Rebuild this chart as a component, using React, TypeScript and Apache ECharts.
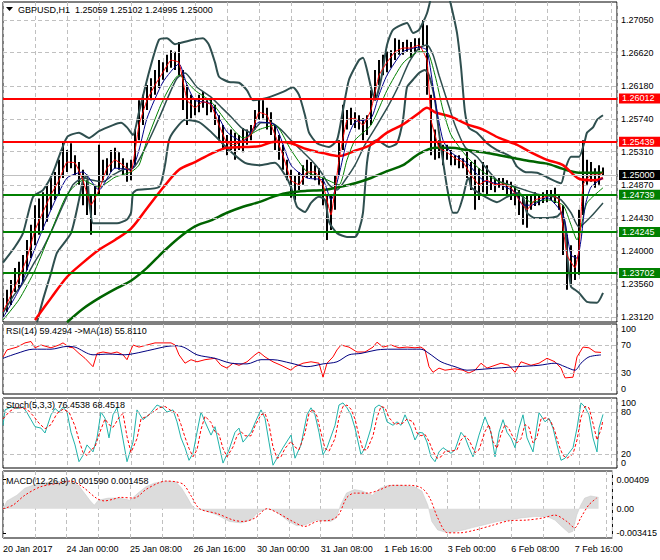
import React, { useEffect, useRef } from 'react';
import * as echarts from 'echarts';

const FONT = "'Liberation Sans', Arial, sans-serif";

// ---------- axis texts ----------
const timeLabels = ['20 Jan 2017', '24 Jan 00:00', '25 Jan 08:00', '26 Jan 16:00', '30 Jan 00:00', '31 Jan 08:00', '1 Feb 16:00', '3 Feb 00:00', '6 Feb 08:00', '7 Feb 16:00'];
const priceTicks = [1.2705, 1.2662, 1.2618, 1.2574, 1.2531, 1.2487, 1.2443, 1.24, 1.2356, 1.2312];
const rsiTicks = [30, 70];
const stochTicks = [20, 80];
const oscEdges = [0, 100];
const macdTicks = [-0.003415, 0, 0.00409];
const rsiLevels = [30, 70];
const stochLevels = [20, 80];

// ---------- levels ----------
const resistance = [1.26012, 1.25439];
const support = [1.24739, 1.24245, 1.23702];
const lastPrice = 1.25;

// ---------- price bars (one every 2 hourly bars) ----------
const BAR_STEP = 2;
const barHigh = [
  1.2337, 1.2348, 1.2361, 1.2377, 1.2385, 1.2394, 1.2414, 1.2434, 1.2460, 1.2469,
  1.2477, 1.2487, 1.2496, 1.2504, 1.2520, 1.2544, 1.2533, 1.2542, 1.2526, 1.2517,
  1.2507, 1.2493, 1.2474, 1.2487, 1.2540, 1.2520, 1.2522, 1.2533, 1.2536, 1.2530,
  1.2522, 1.2516, 1.2520, 1.2560, 1.2599, 1.2606, 1.2619, 1.2628, 1.2639, 1.2652,
  1.2649, 1.2659, 1.2665, 1.2663, 1.2676, 1.2639, 1.2619, 1.2606, 1.2602, 1.2606,
  1.2610, 1.2599, 1.2602, 1.2593, 1.2579, 1.2566, 1.2553, 1.2560, 1.2556, 1.2553,
  1.2562, 1.2560, 1.2566, 1.2586, 1.2602, 1.2599, 1.2589, 1.2583, 1.2566, 1.2553,
  1.2540, 1.2520, 1.2507, 1.2500, 1.2504, 1.2513, 1.2520, 1.2517, 1.2513, 1.2509,
  1.2496, 1.2474, 1.2474, 1.2500, 1.2546, 1.2593, 1.2586, 1.2589, 1.2583, 1.2579,
  1.2575, 1.2579, 1.2612, 1.2639, 1.2652, 1.2659, 1.2663, 1.2665, 1.2681, 1.2679,
  1.2676, 1.2679, 1.2676, 1.2681, 1.2681, 1.2705, 1.2698, 1.2606, 1.2560, 1.2546,
  1.2540, 1.2540, 1.2533, 1.2526, 1.2526, 1.2522, 1.2533, 1.2517, 1.2520, 1.2509,
  1.2517, 1.2513, 1.2500, 1.2496, 1.2496, 1.2496, 1.2493, 1.2491, 1.2487, 1.2480,
  1.2474, 1.2474, 1.2474, 1.2477, 1.2474, 1.2477, 1.2480, 1.2480, 1.2483, 1.2474,
  1.2460, 1.2421, 1.2407, 1.2394, 1.2454, 1.2546, 1.2520, 1.2517, 1.2509, 1.2513,
  1.2510,
];
const barLow = [
  1.2311, 1.2319, 1.2328, 1.2345, 1.2350, 1.2358, 1.2374, 1.2390, 1.2407, 1.2421,
  1.2427, 1.2438, 1.2454, 1.2467, 1.2474, 1.2496, 1.2504, 1.2509, 1.2500, 1.2487,
  1.2460, 1.2447, 1.2421, 1.2447, 1.2474, 1.2493, 1.2499, 1.2504, 1.2509, 1.2507,
  1.2500, 1.2491, 1.2493, 1.2513, 1.2546, 1.2566, 1.2586, 1.2599, 1.2606, 1.2615,
  1.2626, 1.2636, 1.2642, 1.2639, 1.2632, 1.2586, 1.2566, 1.2575, 1.2579, 1.2583,
  1.2589, 1.2579, 1.2583, 1.2566, 1.2546, 1.2533, 1.2526, 1.2533, 1.2520, 1.2533,
  1.2530, 1.2540, 1.2546, 1.2560, 1.2573, 1.2575, 1.2560, 1.2553, 1.2533, 1.2520,
  1.2507, 1.2493, 1.2470, 1.2467, 1.2480, 1.2487, 1.2496, 1.2496, 1.2493, 1.2487,
  1.2460, 1.2414, 1.2427, 1.2454, 1.2500, 1.2533, 1.2560, 1.2566, 1.2562, 1.2560,
  1.2546, 1.2553, 1.2566, 1.2599, 1.2619, 1.2632, 1.2636, 1.2642, 1.2652, 1.2659,
  1.2659, 1.2663, 1.2655, 1.2663, 1.2665, 1.2672, 1.2606, 1.2526, 1.2520, 1.2522,
  1.2513, 1.2520, 1.2513, 1.2513, 1.2509, 1.2509, 1.2496, 1.2480, 1.2454, 1.2467,
  1.2477, 1.2474, 1.2480, 1.2477, 1.2483, 1.2480, 1.2474, 1.2467, 1.2460, 1.2447,
  1.2434, 1.2430, 1.2454, 1.2459, 1.2460, 1.2463, 1.2464, 1.2467, 1.2463, 1.2454,
  1.2394, 1.2348, 1.2354, 1.2361, 1.2368, 1.2447, 1.2487, 1.2491, 1.2483, 1.2487,
  1.24995,
];

// ---------- overlays: [bar, price] ----------
const bbUpper = [[0,1.2384],[6,1.2405],[10,1.2423],[15,1.2471],[20,1.2480],[25,1.2503],[32,1.2550],[38,1.2556],[43,1.2549],[48,1.2558],[55,1.2566],[59,1.2569],[62,1.2563],[65,1.2553],[68,1.2583],[73,1.2636],[78,1.2679],[82,1.2681],[86,1.2673],[89,1.2675],[95,1.2679],[100,1.2681],[103,1.2672],[106,1.2649],[108,1.2630],[113,1.2623],[118,1.2622],[122,1.2612],[125,1.2599],[132,1.2602],[140,1.2610],[145,1.2616],[148,1.2606],[151,1.2579],[153,1.2556],[157,1.2542],[163,1.2537],[167,1.2546],[170,1.2586],[173,1.2626],[178,1.2652],[180,1.2655],[182,1.2639],[184,1.2616],[186,1.2599],[189,1.2626],[192,1.2672],[195,1.2692],[202,1.2701],[205,1.2688],[208,1.2692],[212,1.2714],[215,1.2745],[218,1.2765],[222,1.2745],[224,1.2725],[227,1.2688],[229,1.2643],[231,1.2583],[233,1.2562],[237,1.2556],[242,1.2542],[247,1.2533],[254,1.2524],[257,1.2511],[261,1.2504],[267,1.2503],[272,1.2497],[279,1.2489],[281,1.2507],[284,1.2524],[288,1.2524],[291,1.2546],[292,1.2556],[295,1.2563],[297,1.2573],[300,1.2579]];
const bbLower = [[17,1.2305],[20,1.2335],[24,1.2370],[27,1.2397],[34,1.2423],[38,1.2467],[40,1.2493],[42,1.2500],[43,1.2467],[45,1.2436],[48,1.2436],[57,1.2436],[62,1.2441],[64,1.2450],[65,1.2476],[67,1.2480],[78,1.2484],[81,1.2513],[83,1.2546],[86,1.2560],[91,1.2573],[98,1.2570],[104,1.2557],[113,1.2533],[121,1.2516],[128,1.2513],[136,1.2516],[141,1.2500],[144,1.2484],[147,1.2458],[151,1.2451],[154,1.2463],[158,1.2471],[161,1.2467],[163,1.2438],[167,1.2423],[172,1.2418],[176,1.2418],[178,1.2427],[180,1.2450],[182,1.2516],[184,1.2542],[187,1.2546],[193,1.2537],[197,1.2542],[200,1.2573],[202,1.2616],[205,1.2626],[208,1.2635],[211,1.2639],[213,1.2632],[216,1.2599],[218,1.2556],[222,1.2484],[225,1.2450],[227,1.2450],[230,1.2471],[232,1.2493],[233,1.2496],[234,1.2484],[238,1.2476],[244,1.2467],[247,1.2464],[252,1.2471],[257,1.2476],[260,1.2471],[262,1.2450],[266,1.2443],[272,1.2443],[277,1.2445],[279,1.2450],[281,1.2436],[282,1.2397],[284,1.2352],[286,1.2348],[288,1.2344],[292,1.2332],[297,1.2331],[300,1.2344]];
const bbMiddle = [[0,1.2317],[5,1.2339],[10,1.2357],[15,1.2381],[20,1.2403],[25,1.2430],[30,1.2460],[35,1.2487],[40,1.2496],[45,1.2493],[50,1.2491],[55,1.2500],[60,1.2507],[65,1.2509],[68,1.2520],[73,1.2546],[78,1.2575],[83,1.2606],[87,1.2628],[91,1.2635],[97,1.2616],[104,1.2603],[109,1.2590],[114,1.2577],[119,1.2563],[124,1.2556],[129,1.2569],[134,1.2569],[139,1.2560],[144,1.2546],[149,1.2533],[154,1.2520],[159,1.2504],[163,1.2487],[167,1.2480],[171,1.2493],[176,1.2513],[181,1.2540],[187,1.2566],[193,1.2593],[198,1.2619],[203,1.2649],[208,1.2668],[212,1.2672],[215,1.2659],[218,1.2632],[222,1.2599],[226,1.2566],[231,1.2537],[237,1.2524],[241,1.2511],[247,1.2493],[253,1.2487],[261,1.2480],[268,1.2474],[276,1.2471],[279,1.2467],[284,1.2450],[288,1.2431],[294,1.2445],[300,1.2463]];
const maSlowRed = [[16,1.2308],[24,1.2337],[32,1.2365],[40,1.2384],[48,1.2401],[56,1.2414],[64,1.2429],[72,1.2456],[80,1.2483],[88,1.2507],[96,1.2517],[104,1.2528],[112,1.2536],[120,1.2537],[128,1.2538],[136,1.2544],[144,1.2542],[152,1.2534],[160,1.2529],[168,1.2525],[176,1.2532],[184,1.2540],[192,1.2556],[200,1.2567],[208,1.2582],[212,1.2589],[216,1.2583],[224,1.2577],[232,1.2567],[240,1.2560],[248,1.2549],[256,1.2541],[264,1.2530],[272,1.2520],[280,1.2513],[288,1.2495],[296,1.2493],[300,1.2496]];
const maSlowGreen = [[32,1.2305],[40,1.2323],[48,1.2337],[56,1.2349],[64,1.2360],[72,1.2377],[80,1.2398],[88,1.2417],[96,1.2432],[104,1.2440],[112,1.2450],[120,1.2458],[128,1.2464],[136,1.2472],[144,1.2477],[152,1.2479],[160,1.2480],[168,1.2484],[176,1.2489],[184,1.2496],[192,1.2505],[200,1.2513],[208,1.2528],[216,1.2536],[224,1.2536],[232,1.2533],[240,1.2530],[248,1.2526],[256,1.2522],[264,1.2518],[272,1.2515],[280,1.2508],[288,1.2503],[296,1.2503],[300,1.2503]];
const maFastRed = [[0,1.2319],[4,1.2341],[8,1.2364],[12,1.2390],[16,1.2427],[20,1.2451],[24,1.2474],[28,1.2493],[32,1.2517],[36,1.2516],[40,1.2493],[44,1.2460],[48,1.2480],[52,1.2509],[56,1.2520],[60,1.2513],[64,1.2504],[68,1.2566],[72,1.2599],[76,1.2619],[80,1.2636],[84,1.2652],[88,1.2649],[92,1.2599],[96,1.2589],[100,1.2597],[104,1.2593],[108,1.2566],[112,1.2542],[116,1.2540],[120,1.2546],[124,1.2553],[128,1.2583],[132,1.2579],[136,1.2553],[140,1.2526],[144,1.2493],[148,1.2487],[152,1.2504],[156,1.2504],[160,1.2487],[164,1.2447],[168,1.2520],[172,1.2573],[176,1.2575],[180,1.2566],[184,1.2586],[188,1.2632],[192,1.2649],[196,1.2663],[200,1.2668],[204,1.2668],[208,1.2672],[212,1.2652],[214,1.2573],[218,1.2536],[222,1.2530],[226,1.2522],[230,1.2517],[234,1.2500],[238,1.2487],[242,1.2493],[246,1.2487],[250,1.2488],[254,1.2483],[258,1.2467],[262,1.2454],[266,1.2467],[270,1.2470],[274,1.2474],[278,1.2467],[282,1.2394],[286,1.2377],[288,1.2401],[290,1.2487],[294,1.2500],[298,1.2500],[300,1.2503]];
const maFastBlue = [[0,1.2311],[8,1.2348],[16,1.2403],[24,1.2454],[32,1.2496],[40,1.2504],[48,1.2480],[56,1.2509],[64,1.2507],[68,1.2533],[72,1.2575],[80,1.2623],[88,1.2647],[92,1.2619],[96,1.2599],[104,1.2594],[112,1.2557],[120,1.2544],[128,1.2570],[136,1.2566],[144,1.2513],[152,1.2496],[160,1.2493],[164,1.2467],[168,1.2500],[172,1.2546],[176,1.2570],[184,1.2575],[188,1.2606],[192,1.2632],[200,1.2663],[208,1.2669],[212,1.2665],[216,1.2599],[220,1.2546],[224,1.2530],[232,1.2516],[240,1.2493],[248,1.2488],[256,1.2477],[260,1.2460],[264,1.2460],[272,1.2470],[280,1.2447],[284,1.2394],[287,1.2390],[289,1.2414],[291,1.2458],[294,1.2484],[300,1.2496]];
const maFastGreen = [[0,1.2308],[8,1.2335],[16,1.2374],[24,1.2425],[32,1.2474],[40,1.2493],[48,1.2484],[56,1.2497],[64,1.2504],[68,1.2513],[72,1.2546],[80,1.2599],[88,1.2632],[96,1.2612],[104,1.2597],[112,1.2570],[120,1.2549],[128,1.2560],[136,1.2566],[144,1.2533],[152,1.2504],[160,1.2496],[168,1.2487],[172,1.2520],[176,1.2546],[184,1.2566],[192,1.2612],[200,1.2648],[208,1.2663],[212,1.2663],[216,1.2632],[220,1.2586],[224,1.2553],[232,1.2524],[240,1.2504],[248,1.2491],[256,1.2483],[264,1.2464],[272,1.2467],[280,1.2460],[284,1.2434],[287,1.2414],[289,1.2431],[292,1.2463],[300,1.2483]];

// ---------- RSI ----------
const rsiLine = [[0,53],[2,63],[7,67],[11,73],[14,75],[16,66],[19,70],[24,66],[28,70],[30,73],[33,67],[35,66],[38,58],[41,51],[45,39],[47,58],[50,60],[54,58],[57,60],[60,56],[62,49],[65,70],[68,67],[72,70],[76,73],[80,73],[84,73],[86,70],[88,56],[91,44],[94,49],[97,46],[101,49],[106,51],[109,41],[112,37],[115,44],[118,41],[122,46],[126,56],[128,60],[131,53],[135,46],[139,41],[144,34],[146,39],[150,44],[154,46],[158,44],[160,24],[162,44],[165,53],[167,63],[169,70],[173,67],[177,60],[181,60],[185,67],[187,74],[190,67],[194,70],[198,66],[202,67],[206,66],[209,67],[211,63],[213,39],[215,31],[218,37],[221,34],[226,36],[230,34],[233,30],[236,34],[239,44],[242,37],[246,41],[249,44],[253,41],[256,31],[259,46],[264,41],[268,44],[272,51],[276,46],[279,37],[281,23],[285,24],[287,53],[290,67],[293,66],[296,60],[299,59.4]];
const rsiMa = [[0,51],[7,58],[15,64],[24,64],[32,68],[36,67],[45,56],[53,57],[61,56],[66,58],[74,63],[82,68],[87,69],[91,66],[97,56],[106,51],[114,44],[122,43],[129,49],[135,49],[144,44],[152,39],[160,43],[167,46],[173,56],[179,58],[187,63],[194,64],[200,64],[209,64],[213,58],[219,46],[226,39],[232,34],[238,35],[247,37],[257,39],[268,41],[276,44],[281,39],[286,34],[289,44],[293,53],[299,55.8]];

// ---------- Stochastic ----------
const stochK = [[0,61],[1,83],[4,87],[7,85],[10,87],[12,79],[14,69],[16,59],[19,57],[21,50],[24,76],[26,85],[28,80],[30,87],[32,80],[34,51],[36,33],[38,9],[40,18],[42,33],[45,23],[47,43],[49,80],[51,71],[53,43],[55,76],[57,86],[59,57],[62,9],[65,37],[67,83],[70,69],[73,76],[77,90],[80,86],[82,80],[85,83],[87,66],[89,43],[91,29],[93,11],[95,21],[97,51],[99,80],[101,66],[104,47],[106,59],[108,33],[110,7],[113,26],[116,51],[118,57],[120,37],[124,51],[127,71],[129,83],[131,71],[133,37],[135,4],[137,14],[140,29],[144,47],[146,14],[149,33],[152,76],[154,86],[156,76],[158,51],[160,19],[162,29],[166,61],[168,90],[170,93],[172,86],[174,76],[176,57],[179,19],[181,29],[184,57],[186,86],[188,90],[190,86],[192,66],[195,61],[197,66],[199,61],[201,76],[204,57],[206,40],[208,51],[210,50],[212,37],[214,16],[216,9],[218,23],[220,29],[224,21],[226,26],[229,51],[231,44],[233,29],[235,16],[238,47],[241,73],[244,51],[246,16],[248,51],[250,69],[252,51],[254,43],[256,29],[258,57],[260,76],[262,43],[265,23],[268,79],[271,66],[273,71],[275,57],[277,33],[279,11],[281,14],[285,29],[287,57],[289,93],[291,87],[293,76],[295,43],[297,23],[298,57],[300,76.5]];
const stochD = [[0,70],[3,80],[6,86],[9,86],[12,84],[15,75],[18,64],[21,56],[24,62],[27,78],[30,84],[33,80],[36,60],[38,40],[40,22],[42,18],[44,26],[46,30],[48,48],[51,70],[53,62],[55,58],[58,72],[60,78],[62,45],[64,22],[67,42],[69,70],[72,74],[75,80],[78,86],[81,88],[84,82],[87,78],[89,62],[91,44],[93,28],[95,16],[97,26],[99,55],[101,74],[104,65],[106,52],[108,48],[110,28],[112,16],[115,30],[117,46],[119,52],[121,46],[124,46],[126,60],[129,76],[131,78],[133,62],[135,30],[137,14],[139,16],[141,28],[144,38],[146,30],[148,26],[151,50],[153,78],[155,84],[157,74],[159,50],[161,28],[163,24],[166,42],[168,72],[170,88],[172,90],[174,84],[176,70],[178,46],[180,26],[182,26],[185,46],[187,72],[189,88],[191,86],[193,72],[196,62],[198,64],[200,64],[202,70],[205,66],[207,50],[209,46],[211,48],[213,38],[215,24],[217,14],[219,16],[221,24],[224,24],[227,26],[229,40],[231,46],[233,40],[236,22],[238,26],[241,52],[243,62],[245,38],[247,28],[249,48],[251,62],[253,56],[255,44],[257,36],[259,42],[261,62],[263,58],[265,36],[267,44],[269,70],[272,72],[274,66],[276,52],[278,32],[280,18],[282,14],[285,20],[287,40],[289,72],[291,88],[293,86],[295,64],[297,40],[299,55],[300,68.5]];

// ---------- MACD ----------
const macdMain = [[0,0],[2,0.0011],[7,0.0019],[11,0.0029],[15,0.0033],[19,0.0036],[26,0.0039],[32,0.0038],[38,0.0033],[41,0.0022],[44,0.0011],[46,0.0005],[48,0.0012],[53,0.0015],[59,0.0015],[64,0.0012],[68,0.0022],[72,0.0031],[76,0.0036],[82,0.0039],[87,0.0038],[90,0.0029],[93,0.0015],[95,0.0005],[97,0],[101,-0.0002],[108,-0.0009],[114,-0.0018],[120,-0.002],[125,-0.0016],[128,-0.0006],[133,0],[137,-0.0003],[144,-0.0018],[148,-0.0024],[152,-0.0023],[158,-0.0016],[165,-0.0018],[168,-0.0013],[170,0.0005],[173,0.0022],[177,0.0027],[181,0.0025],[186,0.0019],[190,0.0029],[194,0.0033],[200,0.0033],[207,0.0031],[211,0.0025],[214,0.0005],[216,-0.0018],[219,-0.003],[224,-0.0034],[228,-0.0032],[232,-0.003],[236,-0.0027],[242,-0.0023],[249,-0.0018],[255,-0.0016],[261,-0.0013],[268,-0.0011],[274,-0.0011],[278,-0.0016],[281,-0.0024],[285,-0.0034],[287,-0.0032],[289,-0.0009],[291,0.0005],[293,0.0015],[296,0.0018],[300,0.0016]];
const macdSignal = [[0,0],[5,0.0005],[11,0.0019],[19,0.0031],[28,0.0036],[34,0.0039],[40,0.0031],[47,0.0015],[51,0.0011],[55,0.0013],[59,0.0016],[66,0.0015],[72,0.0027],[78,0.0036],[82,0.0039],[87,0.0038],[91,0.0034],[95,0.0017],[99,0],[108,-0.0007],[116,-0.0016],[121,-0.0018],[127,-0.0013],[133,0],[139,-0.0007],[146,-0.0018],[152,-0.0025],[158,-0.0018],[165,-0.0016],[169,-0.0009],[173,0.0015],[177,0.0022],[184,0.0022],[190,0.0027],[196,0.0033],[205,0.0033],[211,0.0029],[215,0.0015],[219,-0.0013],[224,-0.0034],[230,-0.0034],[238,-0.003],[247,-0.0023],[255,-0.0017],[264,-0.0016],[272,-0.0013],[278,-0.0009],[284,-0.0018],[288,-0.0027],[291,-0.0013],[295,0.0005],[299,0.0015]];

const GRID_LINE = { color: '#c0c0c0', type: [4, 3] as any, width: 1 };
const txt = { fontSize: 9, color: '#000', fontFamily: FONT };

function xAxisFor(gridIndex: number, labels: boolean) {
  return {
    type: 'value', gridIndex, min: 0, max: 307, interval: 16,
    axisLine: { show: false }, axisTick: { show: false },
    splitLine: { show: true, lineStyle: GRID_LINE },
    axisLabel: labels
      ? { show: true, ...txt, align: 'left', margin: 6,
          formatter: (v: number) => (v % 32 === 0 && timeLabels[v / 32] ? timeLabels[v / 32] : '') }
      : { show: false },
  };
}

function yAxisFor(gridIndex: number, min: number, max: number, ticks: number[], fmt: (v: number) => string) {
  return {
    type: 'value', gridIndex, position: 'right', min, max,
    axisLine: { show: false }, splitLine: { show: false },
    axisTick: { show: true, customValues: ticks, length: 3, lineStyle: { color: '#000' } },
    axisLabel: { show: true, customValues: ticks, formatter: fmt, margin: 4, ...txt },
  };
}

function line(data: number[][], color: string, width: number, xi: number, z: number, extra: any = {}) {
  return {
    type: 'line', data, xAxisIndex: xi, yAxisIndex: xi, showSymbol: false, symbol: 'none',
    lineStyle: { color, width, ...(extra.lineStyle || {}) }, itemStyle: { color }, silent: true, z,
    smooth: extra.smooth ?? 0.2, ...(extra.areaStyle ? { areaStyle: extra.areaStyle } : {}),
  };
}

// dashed level lines + the 0 / 100 edge labels of an oscillator panel
function levelSeries(xi: number, values: number[], edges: number[] = []) {
  return {
    type: 'line', xAxisIndex: xi, yAxisIndex: xi, data: [], silent: true, z: 1,
    markLine: {
      silent: true, z: 6, precision: 6, symbol: ['none', 'none'], label: { show: false },
      lineStyle: GRID_LINE,
      data: [
        ...values.map((v) => ({ yAxis: v })),
        ...edges.map((v) => ({
          yAxis: v, lineStyle: { color: 'rgba(0,0,0,0)', opacity: 1, width: 1 },
          label: { show: true, position: 'end', distance: 4, ...txt, opacity: 1,
            offset: [0, v === 0 ? -5 : 5], formatter: String(v) },
        })),
      ],
    },
  };
}

function srLabel(bg: string) {
  return { show: true, position: 'end', distance: 2, color: '#fff', backgroundColor: bg,
    padding: [1, 8, 0, 3], fontSize: 9, fontFamily: FONT, formatter: (p: any) => Number(p.value).toFixed(5) };
}

function titleText(text: string, left: number, top: number) {
  return { text, left, top, padding: 0, textStyle: { ...txt, fontWeight: 'normal' } };
}

export default function App() {
  const ref = useRef<HTMLDivElement>(null);
  useEffect(() => {
    if (!ref.current) return;
    const chart = echarts.init(ref.current, null, { renderer: 'svg' });
    const bars = barHigh.map((h, k) => [k * BAR_STEP, h, barLow[k]]);
    const ypMin = 1.23054, ypMax = 1.27289;
    const option: any = {
      animation: false,
      backgroundColor: '#fff',
      textStyle: { fontFamily: FONT },
      title: [
        titleText('GBPUSD,H1  1.25059 1.25102 1.24995 1.25000', 18, 5),
        titleText('RSI(14) 59.4294 ->MA(18) 55.8110', 6, 326),
        titleText('Stoch(5,3,3) 76.4538 68.4518', 6, 400),
        titleText('MACD(12,26,9) 0.001590 0.001458', 6, 476),
      ],
      graphic: [
        { type: 'polygon', shape: { points: [[6, 7], [13, 7], [9.5, 11]] }, style: { fill: '#000' }, silent: true },
      ],
      grid: [
        { left: 3, top: 2, width: 614, height: 320, show: true, borderColor: '#000', borderWidth: 1, backgroundColor: '#fff' },
        { left: 3, top: 324, width: 614, height: 70, show: true, borderColor: '#000', borderWidth: 1 },
        { left: 3, top: 398, width: 614, height: 70, show: true, borderColor: '#000', borderWidth: 1 },
        { left: 3, top: 471, width: 614, height: 67, show: true, borderColor: '#000', borderWidth: 1 },
      ],
      xAxis: [xAxisFor(0, false), xAxisFor(1, false), xAxisFor(2, false), xAxisFor(3, true)],
      yAxis: [
        yAxisFor(0, ypMin, ypMax, priceTicks, (v) => v.toFixed(5)),
        yAxisFor(1, 0, 100, rsiTicks, (v) => String(v)),
        yAxisFor(2, 0, 100, stochTicks, (v) => String(v)),
        yAxisFor(3, -0.00413, 0.00532, macdTicks, (v) => (v === 0 ? '0.00' : String(v))),
      ],
      series: [
        levelSeries(0, priceTicks),
        {
          type: 'custom', xAxisIndex: 0, yAxisIndex: 0, data: bars, z: 2, silent: true, clip: true,
          encode: { x: 0, y: [1, 2] },
          renderItem: (_p: any, api: any) => {
            const x = api.value(0);
            const a = api.coord([x, api.value(1)]);
            const b = api.coord([x, api.value(2)]);
            const cx = Math.round(a[0]);
            return { type: 'line', shape: { x1: cx, y1: a[1], x2: cx, y2: b[1] }, style: { stroke: '#000', lineWidth: 2 } };
          },
        },
        line(bbUpper, '#2f4f4f', 2, 0, 3),
        line(bbLower, '#2f4f4f', 2, 0, 3),
        line(bbMiddle, '#2f4f4f', 1.5, 0, 3),
        line(maSlowGreen, '#006400', 2.5, 0, 4, { smooth: 0.3 }),
        line(maSlowRed, '#ff0000', 2.5, 0, 4, { smooth: 0.3 }),
        line(maFastGreen, '#008000', 1, 0, 5),
        line(maFastBlue, '#00008b', 1, 0, 5),
        line(maFastRed, '#ff0000', 1, 0, 5, { smooth: 0.1 }),
        {
          type: 'line', xAxisIndex: 0, yAxisIndex: 0, data: [], silent: true, z: 8,
          markLine: {
            silent: true, z: 8, precision: 6, symbol: ['none', 'none'],
            data: [
              ...resistance.map((v) => ({ yAxis: v, lineStyle: { color: '#ff0000', width: 2, type: 'solid' }, label: srLabel('#ff0000') })),
              ...support.map((v) => ({ yAxis: v, lineStyle: { color: '#008000', width: 2, type: 'solid' }, label: srLabel('#008000') })),
              { yAxis: lastPrice, lineStyle: { color: '#c0c0c0', width: 1, type: 'solid' }, label: srLabel('#000') },
            ],
          },
        },
        // RSI
        levelSeries(1, rsiLevels, oscEdges),
        line(rsiLine, '#ff0000', 1, 1, 3, { smooth: 0 }),
        line(rsiMa, '#000080', 1, 1, 4, { smooth: 0.3 }),
        // Stochastic
        levelSeries(2, stochLevels, oscEdges),
        line(stochK, '#20b2aa', 1, 2, 3, { smooth: 0 }),
        line(stochD, '#ff0000', 1, 2, 4, { smooth: 0, lineStyle: { type: [3, 2] } }),
        // MACD
        line(macdMain, '#c8c8c8', 0.5, 3, 2, { smooth: 0, areaStyle: { color: '#dcdcdc', opacity: 1 } }),
        line(macdSignal, '#ff0000', 1, 3, 4, { smooth: 0.3, lineStyle: { type: [2, 2] } }),
      ],
    };
    chart.setOption(option);
    return () => chart.dispose();
  }, []);
  return <div ref={ref} style={{ position: 'absolute', left: 0, top: 0, width: 660, height: 560 }} />;
}
